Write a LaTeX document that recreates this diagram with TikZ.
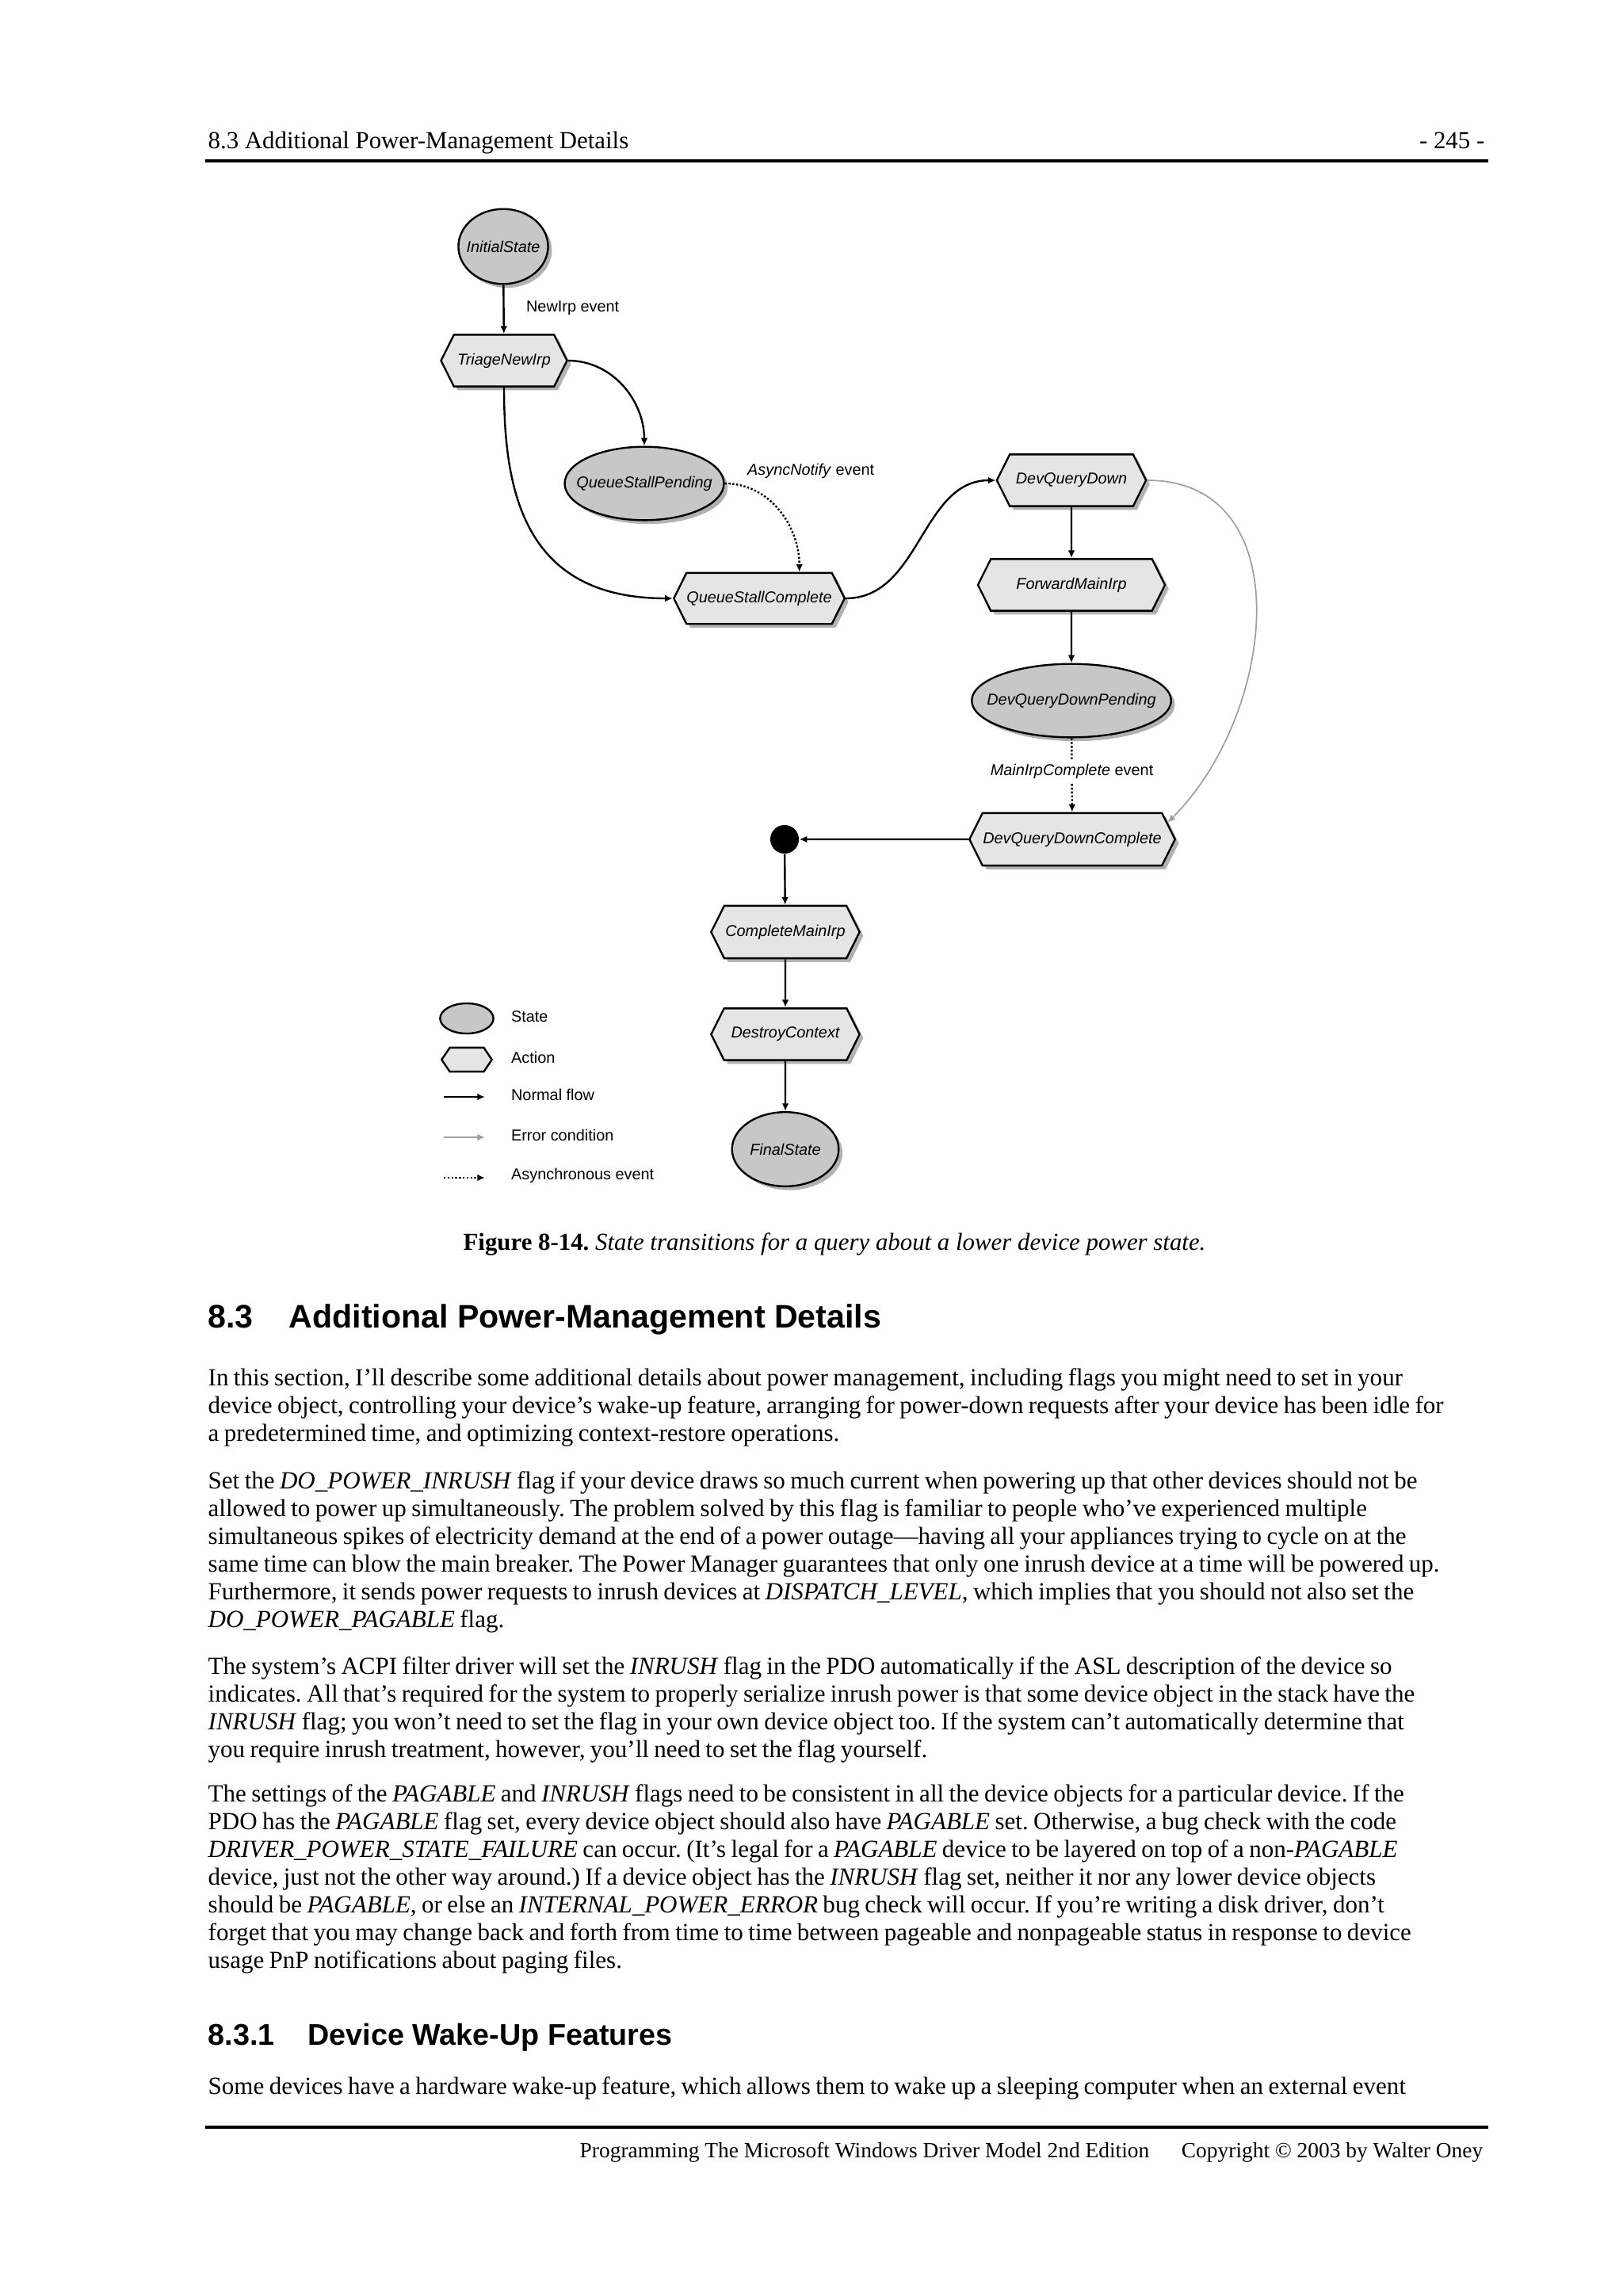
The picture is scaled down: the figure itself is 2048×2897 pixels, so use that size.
\documentclass[tikz,border=0pt]{standalone}
\usepackage{fontspec}
\setmainfont{Liberation Serif}
\newfontfamily\arialfont{Liberation Sans}
\usepackage{tikz}
\usetikzlibrary{arrows.meta, shapes.geometric, shapes.symbols, shadows}

\definecolor{statefill}{gray}{0.78}
\definecolor{actionfill}{gray}{0.9}
\newcommand{\figfont}{\arialfont\fontsize{5.8}{7}\selectfont}
\newcommand{\zerowd}[1]{\makebox[0pt]{#1}}
\frenchspacing

\begin{document}
\begin{tikzpicture}[
    x=0.010254cm, y=0.010254cm,
    figtext/.style={font=\figfont, inner sep=1pt},
    statebox/.style={ellipse, draw, line width=0.7pt, fill=statefill, inner sep=0pt, font=\figfont\itshape},
    actionbox/.style={signal, signal to=west and east, signal pointer angle=127, draw, line width=0.7pt, fill=actionfill, inner sep=0pt, font=\figfont\itshape},
    shade/.style={drop shadow={shadow xshift=1.4pt, shadow yshift=-1.4pt, fill=black, opacity=0.3}},
    flow/.style={-{Latex[length=1mm, width=0.9mm]}, line width=0.7pt},
    errflow/.style={-{Latex[length=1mm, width=0.9mm]}, line width=0.5pt, draw=gray!75},
    async/.style={flow, dash pattern=on 0.7pt off 0.7pt},
    para/.style={anchor=base west, text width=17.5cm, align=left, inner sep=0pt, font=\fontsize{9.05}{10.21}\selectfont,
        execute at begin node={\spaceskip=0.207em plus 0.1em minus 0.05em\relax}},
    headtext/.style={anchor=base west, inner sep=0pt, font=\fontsize{9}{10.21}\selectfont},
    foottext/.style={anchor=base east, inner sep=0pt, font=\fontsize{8}{9.5}\selectfont}
]
\useasboundingbox (0,0) rectangle (2048,-2897);

% Page header
\node[headtext] (runhead) at (262,-187) {8.3 Additional Power-Management Details};
\node[headtext, anchor=base east] (pagenum) at (1874,-187) {- 245 -};
\draw[line width=0.9pt] (259,-203) -- (1878,-203);

% States and actions
\node[statebox, shade, minimum width=1.16cm, minimum height=0.97cm] (init) at (635,-311) {\zerowd{InitialState}};
\node[actionbox, shade, minimum width=1.63cm, minimum height=0.67cm] (triage) at (636,-455) {TriageNewIrp};
\node[statebox, shade, minimum width=2.06cm, minimum height=0.95cm] (qsp) at (813,-610) {\zerowd{QueueStallPending}};
\node[actionbox, shade, minimum width=2.18cm, minimum height=0.66cm] (qsc) at (958,-755) {QueueStallComplete};
\node[actionbox, shade, minimum width=1.93cm, minimum height=0.67cm] (dqd) at (1352,-606) {DevQueryDown};
\node[actionbox, shade, minimum width=2.42cm, minimum height=0.67cm] (fmi) at (1352,-738) {ForwardMainIrp};
\node[statebox, shade, minimum width=2.58cm, minimum height=0.95cm] (dqdp) at (1352,-884) {\zerowd{DevQueryDownPending}};
\node[actionbox, shade, minimum width=2.66cm, minimum height=0.68cm] (dqdc) at (1353,-1059) {DevQueryDownComplete};
\node[circle, fill=black, minimum size=0.37cm, inner sep=0pt] (join) at (990,-1059) {};
\node[actionbox, shade, minimum width=1.92cm, minimum height=0.68cm] (cmi) at (991,-1176) {CompleteMainIrp};
\node[actionbox, shade, minimum width=1.92cm, minimum height=0.67cm] (dc) at (991,-1305) {DestroyContext};
\node[statebox, shade, minimum width=1.38cm, minimum height=0.96cm] (final) at (991,-1450) {\zerowd{FinalState}};

% Event labels
\node[figtext, anchor=west] (newirplbl) at (660,-389) {NewIrp event};
\node[figtext, anchor=west] (asynclbl) at (939,-594) {\textit{AsyncNotify} event};

% Transitions
\draw[flow] (init) -- (triage);
\draw[flow] (triage.east) to[out=0, in=90] (qsp.north);
\draw[flow] (triage.south) to[out=-90, in=180, in looseness=1.4] (qsc.west);
\draw[async] (qsp.east) to[out=0, in=90] ([xshift=0.52cm]qsc.north);
\draw[flow] (qsc.east) to[out=0, in=180] (dqd.west);
\draw[flow] (dqd) -- (fmi);
\draw[flow] (fmi) -- (dqdp);
\draw[async] (dqdp) -- node[pos=0.45, figtext, fill=white, inner sep=1.5pt] (mainlbl) {\textit{MainIrpComplete} event} (dqdc);
\draw[errflow] (dqd.east) to[out=0, in=45, looseness=1.15] (dqdc.10);
\draw[flow] (dqdc) -- (join);
\draw[flow] (join) -- (cmi);
\draw[flow] (cmi) -- (dc);
\draw[flow] (dc) -- (final);

% Legend
\node[statebox, minimum width=0.69cm, minimum height=0.39cm] (lgstate) at (589,-1285) {};
\node[actionbox, signal pointer angle=112, minimum width=0.65cm, minimum height=0.31cm] (lgaction) at (589,-1337) {};
\coordinate (lgn1) at (560,-1384); \coordinate (lgn2) at (612,-1384);
\coordinate (lge1) at (560,-1435); \coordinate (lge2) at (612,-1435);
\coordinate (lga1) at (560,-1486); \coordinate (lga2) at (612,-1486);
\draw[flow] (lgn1) -- (lgn2);
\draw[errflow] (lge1) -- (lge2);
\draw[async] (lga1) -- (lga2);
\node[figtext, anchor=west] (lgstatetxt) at (641,-1283) {State};
\node[figtext, anchor=west] (lgactiontxt) at (641,-1334) {Action};
\node[figtext, anchor=west] (lgnormtxt) at (641,-1381) {Normal flow};
\node[figtext, anchor=west] (lgerrtxt) at (641,-1432) {Error condition};
\node[figtext, anchor=west] (lgasynctxt) at (641,-1483) {Asynchronous event};

% Caption
\node[headtext, anchor=base] (caption) at (1053,-1577) {\textbf{Figure 8-14.} \textit{State transitions for a query about a lower device power state.}};

% Section heading
\node[anchor=base west, inner sep=0pt, font=\arialfont\bfseries\fontsize{12}{14}\selectfont] (secnum) at (262,-1675) {8.3};
\node[anchor=base west, inner sep=0pt, font=\arialfont\bfseries\fontsize{12}{14}\selectfont] (sectitle) at (364,-1675) {Additional Power-Management Details};

% Body text
\node[para] (par1) at (262,-1748) {In this section, I'll describe some additional details about power management, including flags you might need to set in your\\
device object, controlling your device's wake-up feature, arranging for power-down requests after your device has been idle for\\
a predetermined time, and optimizing context-restore operations.};
\node[para] (par2) at (262,-1878) {Set the \textit{DO\_POWER\_INRUSH} flag if your device draws so much current when powering up that other devices should not be\\
allowed to power up simultaneously. The problem solved by this flag is familiar to people who've experienced multiple\\
simultaneous spikes of electricity demand at the end of a power outage---having all your appliances trying to cycle on at the\\
same time can blow the main breaker. The Power Manager guarantees that only one inrush device at a time will be powered up.\\
Furthermore, it sends power requests to inrush devices at \textit{DISPATCH\_LEVEL}, which implies that you should not also set the\\
\textit{DO\_POWER\_PAGABLE} flag.};
\node[para] (par3) at (262,-2112) {The system's ACPI filter driver will set the \textit{INRUSH} flag in the PDO automatically if the ASL description of the device so\\
indicates. All that's required for the system to properly serialize inrush power is that some device object in the stack have the\\
\textit{INRUSH} flag; you won't need to set the flag in your own device object too. If the system can't automatically determine that\\
you require inrush treatment, however, you'll need to set the flag yourself.};
\node[para] (par4) at (262,-2273) {The settings of the \textit{PAGABLE} and \textit{INRUSH} flags need to be consistent in all the device objects for a particular device. If the\\
PDO has the \textit{PAGABLE} flag set, every device object should also have \textit{PAGABLE} set. Otherwise, a bug check with the code\\
\textit{DRIVER\_POWER\_STATE\_FAILURE} can occur. (It's legal for a \textit{PAGABLE} device to be layered on top of a non-\textit{PAGABLE}\\
device, just not the other way around.) If a device object has the \textit{INRUSH} flag set, neither it nor any lower device objects\\
should be \textit{PAGABLE}, or else an \textit{INTERNAL\_POWER\_ERROR} bug check will occur. If you're writing a disk driver, don't\\
forget that you may change back and forth from time to time between pageable and nonpageable status in response to device\\
usage PnP notifications about paging files.};

% Subsection heading
\node[anchor=base west, inner sep=0pt, font=\arialfont\bfseries\fontsize{11}{13}\selectfont] (subnum) at (262,-2580) {8.3.1};
\node[anchor=base west, inner sep=0pt, font=\arialfont\bfseries\fontsize{11}{13}\selectfont] (subtitle) at (388,-2580) {Device Wake-Up Features};
\node[para] (par5) at (262,-2642) {Some devices have a hardware wake-up feature, which allows them to wake up a sleeping computer when an external event};

% Page footer
\draw[line width=0.9pt] (259,-2684) -- (1878,-2684);
\node[foottext] (foottitle) at (1451,-2722) {Programming The Microsoft Windows Driver Model 2nd Edition};
\node[foottext] (footcopy) at (1872,-2722) {Copyright © 2003 by Walter Oney};
\end{tikzpicture}
\end{document}
